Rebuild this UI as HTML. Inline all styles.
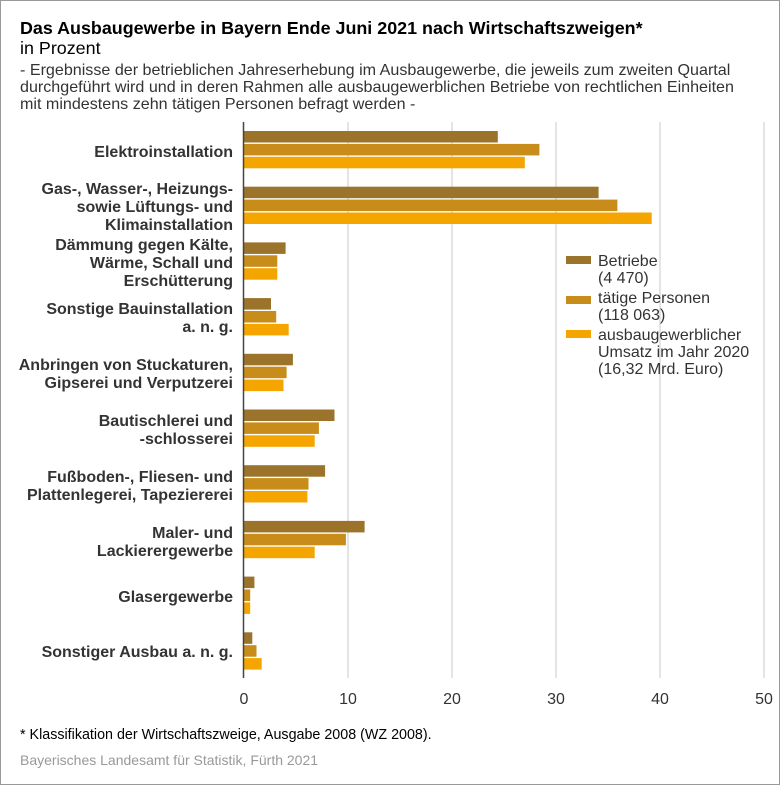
<!DOCTYPE html>
<html><head><meta charset="utf-8"><style>
body{margin:0;background:#fff;}
svg{display:block;font-family:"Liberation Sans",sans-serif;}
</style></head><body>
<svg width="780" height="785" xmlns="http://www.w3.org/2000/svg">
<rect x="0.5" y="0.5" width="779" height="784" fill="#fff" stroke="#999"/>
<text x="20" y="34" font-size="17.9" font-weight="bold" fill="#000">Das Ausbaugewerbe in Bayern Ende Juni 2021 nach Wirtschaftszweigen*</text>
<text x="20" y="54" font-size="17.9" fill="#000">in Prozent</text>
<g font-size="16.1" fill="#333">
<text x="20" y="75">- Ergebnisse der betrieblichen Jahreserhebung im Ausbaugewerbe, die jeweils zum zweiten Quartal</text>
<text x="20" y="92">durchgeführt wird und in deren Rahmen alle ausbaugewerblichen Betriebe von rechtlichen Einheiten</text>
<text x="20" y="109">mit mindestens zehn tätigen Personen befragt werden -</text>
</g>
<g stroke="#c8c8c8" stroke-width="1">
<line x1="348" y1="122" x2="348" y2="678"/><line x1="452" y1="122" x2="452" y2="678"/>
<line x1="556" y1="122" x2="556" y2="678"/><line x1="660" y1="122" x2="660" y2="678"/>
<line x1="764" y1="122" x2="764" y2="678"/>
</g>
<g id="bars"></g>
<line x1="243.5" y1="122" x2="243.5" y2="678" stroke="#444" stroke-width="1.5"/>
<g font-size="16" fill="#333" text-anchor="middle">
<text x="244" y="704">0</text><text x="348" y="704">10</text><text x="452" y="704">20</text>
<text x="556" y="704">30</text><text x="660" y="704">40</text><text x="764" y="704">50</text>
</g>
<g font-size="16" font-weight="bold" fill="#333" text-anchor="end">
<text x="233" y="157">Elektroinstallation</text>
<text x="233" y="194">Gas-, Wasser-, Heizungs-</text><text x="233" y="212">sowie Lüftungs- und</text><text x="233" y="230">Klimainstallation</text>
<text x="233" y="250">Dämmung gegen Kälte,</text><text x="233" y="268">Wärme, Schall und</text><text x="233" y="286">Erschütterung</text>
<text x="233" y="314">Sonstige Bauinstallation</text><text x="233" y="332">a. n. g.</text>
<text x="233" y="370">Anbringen von Stuckaturen,</text><text x="233" y="388">Gipserei und Verputzerei</text>
<text x="233" y="426">Bautischlerei und</text><text x="233" y="444">-schlosserei</text>
<text x="233" y="482">Fußboden-, Fliesen- und</text><text x="233" y="500">Plattenlegerei, Tapeziererei</text>
<text x="233" y="538">Maler- und</text><text x="233" y="556">Lackierergewerbe</text>
<text x="233" y="602">Glasergewerbe</text>
<text x="233" y="657">Sonstiger Ausbau a. n. g.</text>
</g>
<rect x="566" y="256" width="25" height="8" fill="#9b732b"/>
<rect x="566" y="296" width="25" height="8" fill="#c88c1a"/>
<rect x="566" y="330" width="25" height="8" fill="#f5a500"/>
<g font-size="16" fill="#333">
<text x="598" y="266">Betriebe</text><text x="598" y="283">(4 470)</text>
<text x="598" y="303">tätige Personen</text><text x="598" y="320">(118 063)</text>
<text x="598" y="340">ausbaugewerblicher</text><text x="598" y="357">Umsatz im Jahr 2020</text><text x="598" y="374">(16,32 Mrd. Euro)</text>
</g>
<text x="20" y="739" font-size="14.3" fill="#000">*  Klassifikation der Wirtschaftszweige, Ausgabe 2008 (WZ 2008).</text>
<text x="20" y="765" font-size="14" fill="#999">Bayerisches Landesamt für Statistik, Fürth 2021</text>
</svg>
<script>
var d=[[24.4,28.4,27.0],[34.1,35.9,39.2],[4.0,3.2,3.2],[2.6,3.1,4.3],[4.7,4.1,3.8],[8.7,7.2,6.8],[7.8,6.2,6.1],[11.6,9.8,6.8],[1.0,0.6,0.6],[0.8,1.2,1.7]];
var c=["#9b732b","#c88c1a","#f5a500"],g=document.getElementById("bars"),s="";
d.forEach(function(r,i){var y0=131+i*55.7;r.forEach(function(v,j){s+='<rect x="244" y="'+(y0+j*12.9).toFixed(1)+'" width="'+(v*10.4).toFixed(1)+'" height="11.5" fill="'+c[j]+'"/>';});});
g.innerHTML=s;
</script>
</body></html>
